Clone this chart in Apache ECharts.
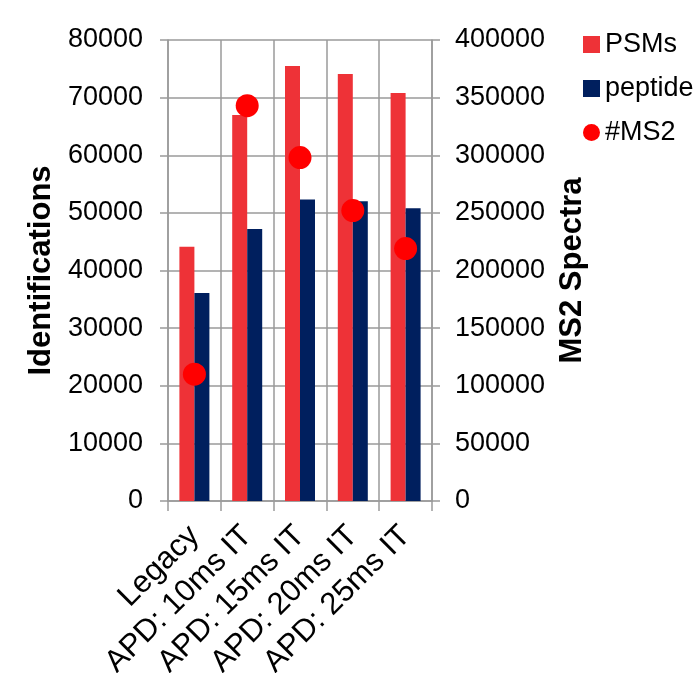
<!DOCTYPE html>
<html>
<head>
<meta charset="utf-8">
<script src="https://cdn.jsdelivr.net/npm/echarts@6/dist/echarts.min.js"></script>
<style>
  html, body { margin: 0; padding: 0; background: #fff; }
  #chart { width: 695px; height: 673px; }
</style>
</head>
<body>
<div id="chart"></div>
<script>
// Acquisition settings compared
const categories = ['Legacy', 'APD: 10ms IT', 'APD: 15ms IT', 'APD: 20ms IT', 'APD: 25ms IT'];
// Identification counts (left axis)
const psms = [44100, 67000, 75500, 74100, 70800];
const peptides = [36100, 47200, 52300, 52000, 50800];
// Number of MS2 spectra acquired (right axis)
const ms2 = [110000, 343000, 298000, 252000, 219000];

const leftTicks = { min: 0, max: 80000, interval: 10000 };
const rightTicks = { min: 0, max: 400000, interval: 50000 };

const FONT = '"Liberation Sans", Arial, sans-serif';
const GRID_GRAY = '#9a9a9a';
const plainNumber = v => String(v);

const chart = echarts.init(document.getElementById('chart'), null, { renderer: 'canvas' });

chart.setOption({
  animation: false,
  backgroundColor: '#ffffff',
  textStyle: { fontFamily: FONT, color: '#000' },
  grid: {
    left: 168, right: 263, top: 40, bottom: 172,
    containLabel: false,
    outerBoundsMode: 'none'
  },
  legend: {
    orient: 'vertical',
    left: 578,
    top: 26,
    itemGap: 17,
    itemWidth: 17,
    itemHeight: 17,
    textStyle: { fontFamily: FONT, fontSize: 27, color: '#000', padding: [0, 0, 0, 0] },
    data: [
      { name: 'PSMs', icon: 'path://M1.5,1.5H15.5V15.5H1.5Z' },
      { name: 'peptide', icon: 'path://M1.5,1.5H15.5V15.5H1.5Z' },
      { name: '#MS2', icon: 'circle' }
    ]
  },
  xAxis: {
    type: 'category',
    data: categories,
    boundaryGap: true,
    axisLine: { show: true, lineStyle: { color: GRID_GRAY, width: 1.5 } },
    axisTick: { show: true, length: 10, alignWithLabel: false, lineStyle: { color: GRID_GRAY, width: 1.5 } },
    splitLine: { show: true, lineStyle: { color: GRID_GRAY, width: 1.5 } },
    axisLabel: {
      rotate: 45,
      interval: 0,
      margin: 30,
      fontFamily: FONT,
      fontSize: 31,
      color: '#000'
    }
  },
  yAxis: [
    {
      type: 'value',
      min: leftTicks.min,
      max: leftTicks.max,
      interval: leftTicks.interval,
      position: 'left',
      name: 'Identifications',
      nameLocation: 'middle',
      nameRotate: 90,
      nameGap: 111,
      nameTextStyle: { fontFamily: FONT, fontSize: 31, fontWeight: 'bold', color: '#000' },
      axisLine: { show: true, lineStyle: { color: GRID_GRAY, width: 1.5 } },
      axisTick: { show: true, length: 8, lineStyle: { color: GRID_GRAY, width: 1.5 } },
      splitLine: { show: true, lineStyle: { color: GRID_GRAY, width: 1.5 } },
      axisLabel: { margin: 25, fontFamily: FONT, fontSize: 27, color: '#000', formatter: plainNumber }
    },
    {
      type: 'value',
      min: rightTicks.min,
      max: rightTicks.max,
      interval: rightTicks.interval,
      position: 'right',
      name: 'MS2 Spectra',
      nameLocation: 'middle',
      nameRotate: 90,
      nameGap: 125,
      nameTextStyle: { fontFamily: FONT, fontSize: 31, fontWeight: 'bold', color: '#000' },
      axisLine: { show: true, lineStyle: { color: GRID_GRAY, width: 1.5 } },
      axisTick: { show: true, length: 8, lineStyle: { color: GRID_GRAY, width: 1.5 } },
      splitLine: { show: false },
      axisLabel: { margin: 23, fontFamily: FONT, fontSize: 27, color: '#000', formatter: plainNumber }
    }
  ],
  series: [
    {
      name: 'PSMs',
      type: 'bar',
      yAxisIndex: 0,
      data: psms,
      barWidth: 15,
      barGap: '0%',
      itemStyle: { color: '#EE3237' }
    },
    {
      name: 'peptide',
      type: 'bar',
      yAxisIndex: 0,
      data: peptides,
      barWidth: 15,
      barGap: '0%',
      itemStyle: { color: '#001F5E' }
    },
    {
      name: '#MS2',
      type: 'scatter',
      yAxisIndex: 1,
      data: ms2,
      symbol: 'circle',
      symbolSize: 23,
      itemStyle: { color: '#FF0000', opacity: 1 },
      z: 5
    }
  ]
});
</script>
</body>
</html>
